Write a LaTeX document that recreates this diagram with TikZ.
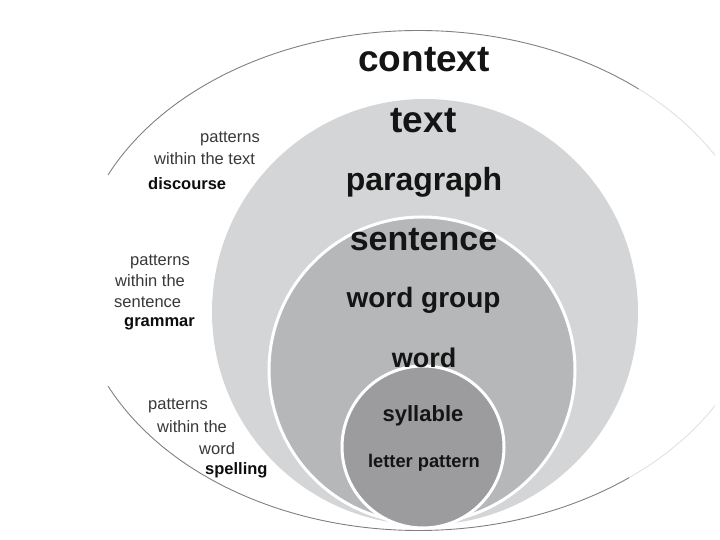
\documentclass[tikz,border=0pt]{standalone}
\usepackage{fontspec}
\setmainfont{Liberation Sans}
\definecolor{ringlight}{RGB}{212,213,215}
\definecolor{ringmid}{RGB}{182,183,185}
\definecolor{ringdark}{RGB}{156,156,159}

\begin{document}
\begin{tikzpicture}[
        x=1pt, y=1pt,
        level/.style={anchor=base, inner sep=0pt, text=black!92,
            font=\bfseries\fontsize{#1}{#1}\selectfont},
        side/.style={anchor=base west, inner sep=0pt, text=black!78,
            font=\fontsize{16.5}{18}\selectfont},
        sidebold/.style={side, text=black!95,
            font=\bfseries\fontsize{16.5}{18}\selectfont}
    ]
    \useasboundingbox (0,0) rectangle (720,540);
    % the context ellipse is only drawn in two pieces
    \draw[black!50, line width=0.9] (418.5,259.5) ++(155:342.5 and 250)
        arc[start angle=155, end angle=50, x radius=342.5, y radius=250];
    \draw[black!12, line width=0.9] (418.5,259.5) ++(50:342.5 and 250)
        arc[start angle=50, end angle=30, x radius=342.5, y radius=250];
    \draw[black!50, line width=0.9] (418.5,259.5) ++(205:342.5 and 250)
        arc[start angle=205, end angle=308, x radius=342.5, y radius=250];
    \draw[black!12, line width=0.9] (418.5,259.5) ++(308:342.5 and 250)
        arc[start angle=308, end angle=330, x radius=342.5, y radius=250];

    \fill[ringlight] (425,228) circle[radius=213];
    \draw[white, line width=3, fill=ringmid] (422,170) circle[radius=153];
    \draw[white, line width=3, fill=ringdark] (423,93) circle[radius=81];

    \node[level=37] (context) at (424,468) {context};
    \node[level=37] (text) at (423.5,407) {text};
    \node[level=32] (paragraph) at (424,349) {paragraph};
    \node[level=34] (sentence) at (423.5,289) {sentence};
    \node[level=28] (wordgroup) at (423.5,232) {word group};
    \node[level=27] (word) at (424,172) {word};
    \node[level=22] (syllable) at (423,118) {syllable};
    \node[level=18.3] (letterpattern) at (424,72) {letter pattern};

    \foreach \name/\x/\y/\words in {
            patternstext/200/397/patterns, withintext/154/375/within the text,
            patternssentence/130/274/patterns, withinsentence/115/253/within the,
            sentencelabel/114/232/sentence,
            patternsword/148/130/patterns, withinword/157/107/within the,
            wordlabel/199/85/word} {
        \node[side] (\name) at (\x,\y) {\words};
    }
    \foreach \name/\x/\y/\words in {
            discourse/148/350/discourse, grammar/124/213/grammar,
            spelling/205/65/spelling} {
        \node[sidebold] (\name) at (\x,\y) {\words};
    }
\end{tikzpicture}
\end{document}
